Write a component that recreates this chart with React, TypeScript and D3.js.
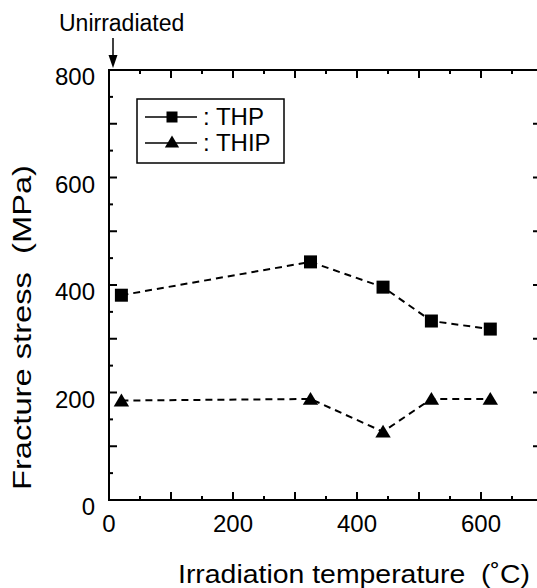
import React from "react";
import * as d3 from "d3";

const temperatures = [20, 325, 442, 520, 615];
const thpStress = [381, 443, 396, 333, 318];
const thipStress = [185, 188, 127, 188, 188];
const xTickLabels = [0, 200, 400, 600];
const yTickLabels = [0, 200, 400, 600, 800];

const W = 537;
const H = 588;
const FONT = "'Liberation Sans', Arial, Helvetica, sans-serif";

export default function App() {
  const x = d3.scaleLinear().domain([0, 700]).range([109, 543]);
  const y = d3.scaleLinear().domain([0, 800]).range([500, 70]);
  const x0 = x(0), x1 = x(700), y0 = y(0), y1 = y(800);

  const xTicks = d3.range(0, 701, 50);
  const yTicks = d3.range(0, 801, 50);

  const line = d3
    .line<number>()
    .x((_, i) => x(temperatures[i]))
    .y((d) => y(d));

  const sq = (cx: number, cy: number, s = 13) => (
    <rect x={cx - s / 2} y={cy - s / 2} width={s} height={s} fill="#000" />
  );
  const tri = (cx: number, cy: number, s = 14) => (
    <path
      d={`M${cx},${cy - s * 0.5} L${cx + s * 0.55},${cy + s * 0.42} L${cx - s * 0.55},${cy + s * 0.42} Z`}
      fill="#000"
    />
  );

  return (
    <svg
      width={W}
      height={H}
      style={{ position: "absolute", left: 0, top: 0, background: "#fff" }}
      fontFamily={FONT}
    >
      <rect x={0} y={0} width={W} height={H} fill="#fff" />
      {/* frame */}
      <g stroke="#000" strokeWidth={2} fill="none">
        <line x1={x0} y1={y0} x2={x1} y2={y0} />
        <line x1={x0} y1={y1} x2={x1} y2={y1} />
        <line x1={x0} y1={y0 + 1} x2={x0} y2={y1 - 1} />
        <line x1={x1} y1={y0} x2={x1} y2={y1} />
      </g>
      {/* ticks */}
      <g stroke="#000" strokeWidth={2}>
        {xTicks.map((t) => {
          const len = t % 100 === 0 ? 8 : 4;
          return (
            <g key={"xt" + t}>
              <line x1={x(t)} x2={x(t)} y1={y0} y2={y0 - len} />
              <line x1={x(t)} x2={x(t)} y1={y1} y2={y1 + len} />
            </g>
          );
        })}
        {yTicks.map((t) => {
          const len = t % 100 === 0 ? 8 : 4;
          return (
            <g key={"yt" + t}>
              <line x1={x0} x2={x0 + len} y1={y(t)} y2={y(t)} />
              <line x1={x1} x2={x1 - len - 2} y1={y(t)} y2={y(t)} />
            </g>
          );
        })}
      </g>
      {/* tick labels */}
      <g fontSize={24} fill="#000">
        {xTickLabels.map((t) => (
          <text key={"xl" + t} x={x(t)} y={532} textAnchor="middle">
            {t}
          </text>
        ))}
        {yTickLabels.map((t) => (
          <text key={"yl" + t} x={95} y={y(t) + 15} textAnchor="end">
            {t}
          </text>
        ))}
      </g>
      {/* axis titles */}
      <text
        x={178}
        y={583}
        fontSize={25}
        textLength={352}
        lengthAdjust="spacingAndGlyphs"
        fill="#000"
        style={{ whiteSpace: "pre" }}
      >
        {"Irradiation temperature  (˚C)"}
      </text>
      <text
        transform={`translate(31,490) rotate(-90)`}
        fontSize={26}
        textLength={325}
        lengthAdjust="spacingAndGlyphs"
        fill="#000"
        style={{ whiteSpace: "pre" }}
      >
        {"Fracture stress  (MPa)"}
      </text>
      {/* Unirradiated annotation */}
      <text x={59} y={31} fontSize={23} fill="#000">
        Unirradiated
      </text>
      <line x1={113} x2={113} y1={38} y2={58} stroke="#000" strokeWidth={1.5} />
      <path d="M108.5,55 L117.5,55 L113,68 Z" fill="#000" />
      {/* data lines */}
      <g fill="none" stroke="#000" strokeWidth={2} strokeDasharray="7,5">
        <path d={line(thpStress) || ""} />
        <path d={line(thipStress) || ""} />
      </g>
      {thpStress.map((v, i) => (
        <g key={"s" + i}>{sq(x(temperatures[i]), y(v))}</g>
      ))}
      {thipStress.map((v, i) => (
        <g key={"t" + i}>{tri(x(temperatures[i]), y(v))}</g>
      ))}
      {/* legend */}
      <rect x={137} y={99} width={147} height={64} fill="#fff" stroke="#000" strokeWidth={1.5} />
      <line x1={145} x2={197} y1={117} y2={117} stroke="#000" strokeWidth={1.5} />
      {sq(172, 117, 11)}
      <line x1={145} x2={197} y1={143} y2={143} stroke="#000" strokeWidth={1.5} />
      {tri(172, 142, 13)}
      <text x={203} y={125} fontSize={24} fill="#000">
        : THP
      </text>
      <text x={203} y={151} fontSize={24} fill="#000">
        : THIP
      </text>
    </svg>
  );
}
